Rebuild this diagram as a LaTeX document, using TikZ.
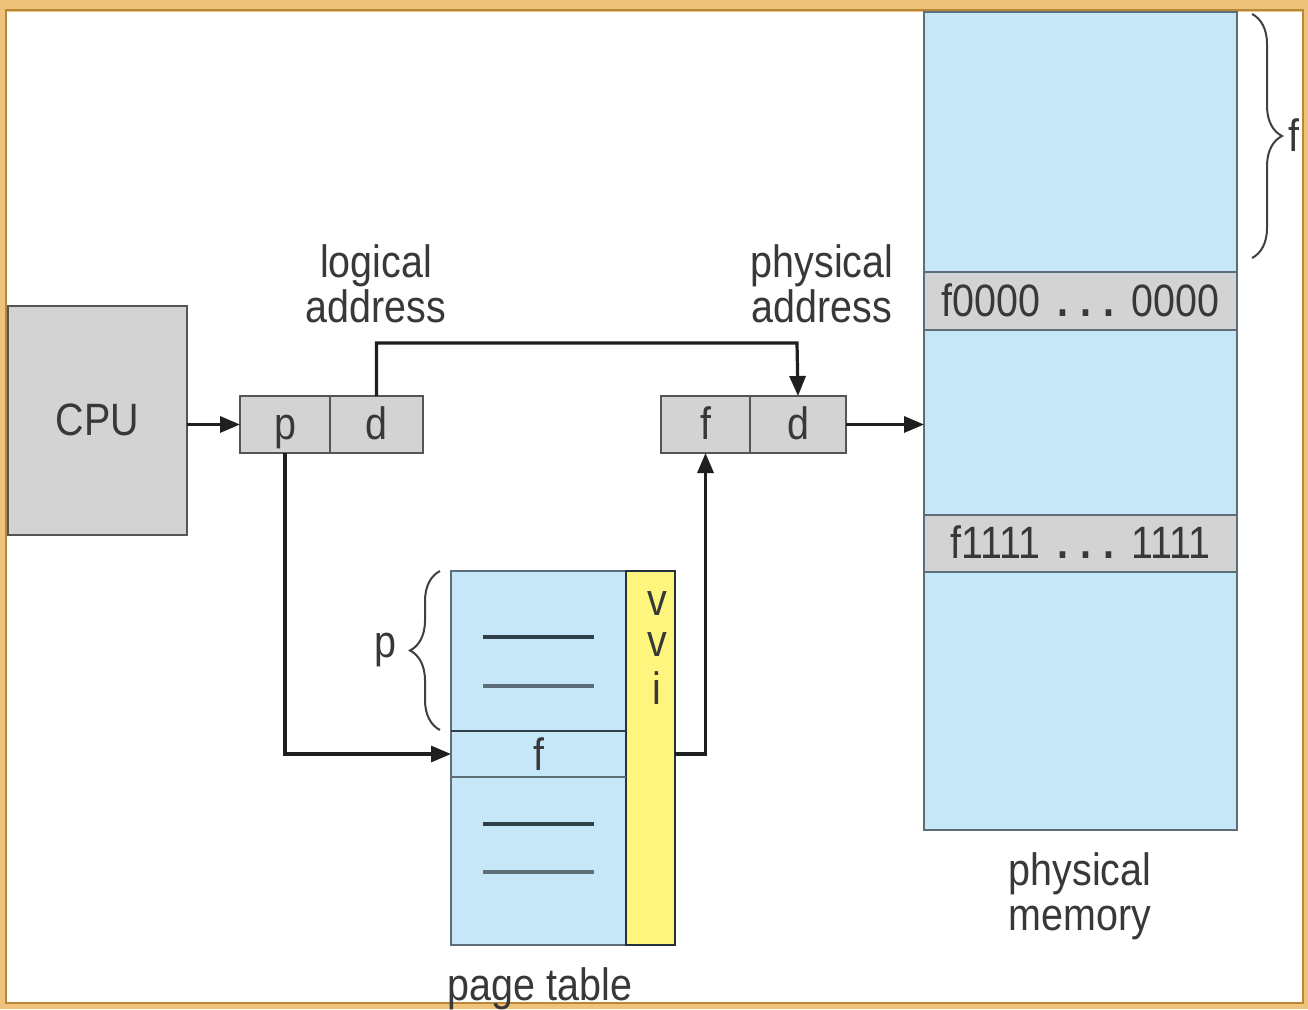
\documentclass[tikz,border=0pt]{standalone}
\usepackage{fontspec}
\setmainfont{Liberation Sans}[FakeStretch=0.87]
\usetikzlibrary{arrows.meta,decorations.pathreplacing}
\definecolor{memblue}{HTML}{C6E7F8}
\definecolor{cellgray}{HTML}{D3D3D3}
\definecolor{ptyellow}{HTML}{FDF57E}
\definecolor{edgegray}{HTML}{555555}
\definecolor{slate}{HTML}{5E6E78}
\definecolor{darkslate}{HTML}{2E3F4A}
\definecolor{txt}{HTML}{383838}
\definecolor{frlight}{HTML}{EFC37C}
\definecolor{frdark}{HTML}{B98738}
\begin{document}
\begin{tikzpicture}[x=0.75pt,y=-0.75pt,
  lbl/.style={text=txt,font=\fontsize{34}{33.5}\selectfont,inner sep=0pt,outer sep=0pt},
  cellbox/.style={draw=edgegray,fill=cellgray,line width=1.5pt,minimum height=42.75pt,inner sep=0pt,outer sep=0pt,text=txt,font=\fontsize{34}{33.5}\selectfont,text height=23.2pt,text depth=0pt},
  bandbox/.style={draw=slate,fill=cellgray,line width=1.5pt,minimum width=234.75pt,inner sep=0pt,outer sep=0pt,text=txt,font=\fontsize{34}{33.5}\selectfont,text height=23.2pt,text depth=0pt},
  conn/.style={line width=2.4pt,draw=black!88,-{Triangle[length=15pt,width=12pt]}},
  bracestyle/.style={draw=black!75,line width=1.5pt,decorate,decoration={brace,amplitude=22.5pt}},
  dashline/.style={line width=2.4pt,draw=darkslate}
]
% frame
\fill[frlight] (0,0) rectangle (1308,1009);
\fill[white] (7,12) rectangle (1302,1002);
\draw[frdark,line width=2pt] (6,10) rectangle (1303,1003);
\useasboundingbox (0,0) rectangle (1308,1009);

% CPU
\node[cellbox,minimum width=134.25pt,minimum height=171.75pt] (cpu) at (97.5,420.5) {CPU};

% logical address
\node[cellbox,minimum width=67.5pt] (pcell) at (285,424.5) {p};
\node[cellbox,minimum width=69.75pt] (dcell) at (376.5,424.5) {d};
\node[lbl,anchor=north,align=center] (lal) at (376,245) {logical\\address};

% physical address
\node[cellbox,minimum width=66.75pt] (fcell) at (705.5,424.5) {f};
\node[cellbox,minimum width=72pt] (dcell2) at (798,424.5) {d};
\node[lbl,anchor=north,align=center] (pal) at (822,245) {physical\\address};

% physical memory
\node[draw=slate,fill=memblue,line width=1.5pt,minimum width=234.75pt,minimum height=613.5pt,inner sep=0pt,outer sep=0pt] (mem) at (1080.5,421) {};
\node[bandbox,minimum height=43.5pt] (band0) at (1080.5,301) {f0000\kern13pt{\bfseries.\kern9pt.\kern9pt.}\kern13pt{0000}};
\node[bandbox,minimum height=42.75pt] (band1) at (1080.5,543.5) {f1111\kern13pt{\bfseries.\kern9pt.\kern9pt.}\kern13pt{1111}};
\node[lbl,anchor=north,align=center] (pml) at (1080,853) {physical\\memory};
\coordinate (mbtop) at (1252,14);
\coordinate (mbbot) at (1252,258);
\draw[bracestyle] (mbtop) -- (mbbot);
\node[lbl] (fbl) at (1294,135) {f};

% page table
\node[draw=slate,fill=memblue,line width=1.5pt,minimum width=131.25pt,minimum height=280.5pt,inner sep=0pt,outer sep=0pt] (pt) at (538.5,758) {};
\node[draw=darkslate!80!black,fill=ptyellow,line width=1.5pt,minimum width=36.75pt,minimum height=280.5pt,inner sep=0pt,outer sep=0pt] (vcol) at (650.5,758) {};
\node[lbl,minimum width=131.25pt,minimum height=34.5pt] (frow) at (538.5,754) {f};
\draw[line width=1.8pt,darkslate] (frow.north west) -- (frow.north east);
\draw[line width=1.8pt,slate] (frow.south west) -- (frow.south east);
\coordinate (d1a) at (483,637); \coordinate (d1b) at (594,637);
\coordinate (d2a) at (483,686); \coordinate (d2b) at (594,686);
\coordinate (d3a) at (483,824); \coordinate (d3b) at (594,824);
\coordinate (d4a) at (483,872); \coordinate (d4b) at (594,872);
\draw[dashline] (d1a) -- (d1b);
\draw[dashline,slate] (d2a) -- (d2b);
\draw[dashline] (d3a) -- (d3b);
\draw[dashline,slate] (d4a) -- (d4b);
\node[lbl] (v1) at (657,604) {v};
\node[lbl] (v2) at (657,645) {v};
\node[lbl] (v3) at (657,688) {i};
\node[lbl,anchor=north] (ptl) at (540,968) {page table};
\coordinate (pbbot) at (440,730);
\coordinate (pbtop) at (440,571);
\draw[bracestyle] (pbbot) -- (pbtop);
\node[lbl] (pbl) at (385,650) {p};

% connectors
\draw[conn] (pcell.west -| cpu.east) -- (pcell.west);
\draw[conn] (pcell.south) |- (frow.west);
\draw[conn] (vcol.east |- frow.west) -| (fcell.south);
\coordinate (topline) at (797,343);
\draw[conn] (dcell.north) |- (topline) -- (dcell2.north);
\draw[conn] (dcell2.east) -- (dcell2.east -| mem.west);
\end{tikzpicture}
\end{document}
